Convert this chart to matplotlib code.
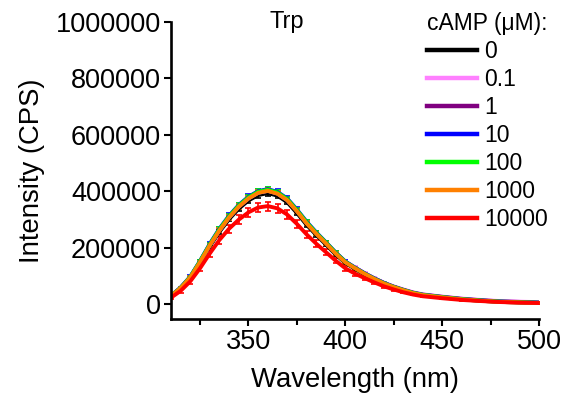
import matplotlib
matplotlib.use("Agg")
import matplotlib.pyplot as plt
from matplotlib.ticker import MultipleLocator
from matplotlib.lines import Line2D

plt.rcParams['font.family'] = ['Liberation Sans', 'DejaVu Sans']

wavelength = [310, 315, 320, 325, 330, 335, 340, 345, 350, 355, 360, 365, 370, 375,
              380, 385, 390, 395, 400, 405, 410, 415, 420, 425, 430, 435, 440,
              450, 460, 470, 480, 490, 500]

labels = ["0", "0.1", "1", "10", "100", "1000", "10000"]
colors = ["#000000", "#ff80ff", "#800080", "#0000ff", "#00ff00", "#ff8000", "#ff0000"]

camp_0 = [29000, 57000, 94000, 147000, 205000, 257000, 302000, 339000, 368000, 387000, 394000,
          385000, 362000, 324000, 282000, 246000, 212000, 177000, 147000, 126000, 106000,
          89000, 73000, 60000, 49000, 40000, 33000, 25000, 18000, 13000, 9000, 7000, 5000]
camp_0_1 = [30000, 58000, 96000, 150000, 209000, 262000, 308000, 346000, 375000, 395000, 402000,
            392000, 369000, 331000, 289000, 252000, 218000, 183000, 152000, 131000, 111000,
            93000, 77000, 64000, 53000, 43000, 36000, 28000, 21000, 16000, 12000, 10000, 8000]
camp_1 = [30000, 59000, 97000, 151000, 210000, 264000, 310000, 348000, 377000, 397000, 404000,
          394000, 371000, 332000, 289000, 252000, 218000, 182000, 151000, 130000, 110000,
          92000, 76000, 63000, 52000, 42000, 35000, 27000, 20000, 15000, 11000, 9000, 7000]
camp_10 = [31000, 60000, 99000, 154000, 214000, 268000, 314000, 352000, 381000, 401000, 408000,
           398000, 375000, 336000, 293000, 255000, 220000, 184000, 152000, 130000, 110000,
           92000, 76000, 62000, 51000, 41000, 34000, 26000, 19000, 14000, 10000, 8000, 6000]
camp_100 = [30000, 59000, 98000, 153000, 212000, 266000, 312000, 350000, 379000, 399000, 406000,
            396000, 373000, 334000, 291000, 253000, 219000, 183000, 151000, 129000, 109000,
            91000, 75000, 62000, 51000, 41000, 34000, 26000, 19000, 14000, 10000, 8000, 6000]
camp_1000 = [30000, 58000, 96000, 150000, 209000, 262000, 308000, 346000, 375000, 395000, 402000,
             392000, 369000, 330000, 287000, 250000, 216000, 180000, 149000, 128000, 108000,
             90000, 74000, 61000, 50000, 40000, 33000, 25000, 18000, 13000, 9000, 7000, 5000]
camp_10000 = [24000, 48000, 82000, 128000, 180000, 228000, 268000, 300000, 326000, 343000, 348000,
              340000, 318000, 285000, 248000, 215000, 185000, 155000, 128000, 109000, 93000,
              78000, 64000, 53000, 43000, 35000, 29000, 22000, 16000, 12000, 8500, 6500, 5000]

err_small = [2000, 3000, 4000, 5000, 6000, 7000, 8000, 8000, 9000, 9000, 9000,
             9000, 8000, 8000, 7000, 6000, 6000, 5000, 4000, 4000, 3000,
             3000, 3000, 2000, 2000, 2000, 2000, 2000, 2000, 2000, 2000, 2000, 2000]
err_red = [4000, 6000, 8000, 10000, 12000, 13000, 14000, 15000, 16000, 16000, 16000,
           16000, 15000, 14000, 13000, 12000, 11000, 10000, 9000, 8000, 7000,
           6000, 5000, 4000, 4000, 3000, 3000, 3000, 2000, 2000, 2000, 2000, 2000]

series = [camp_0, camp_0_1, camp_1, camp_10, camp_100, camp_1000, camp_10000]
errors = [err_small] * 6 + [err_red]

fig = plt.figure(figsize=(5.68, 4.04), dpi=100)
ax = fig.add_axes([0.301, 0.210, 0.648, 0.736])

for vals, err, col, lab in zip(series, errors, colors, labels):
    ax.errorbar(wavelength, vals, yerr=err, color=col, lw=2.8, elinewidth=1.2,
                capsize=2.5, capthick=1.2, label=lab)

ax.set_xlim(310, 500)
ax.set_ylim(-52000, 1000000)
ax.set_xticks([350, 400, 450, 500])
ax.xaxis.set_minor_locator(MultipleLocator(25))
ax.yaxis.set_major_locator(MultipleLocator(200000))
ax.ticklabel_format(axis='y', style='plain')

for s in ['top', 'right']:
    ax.spines[s].set_visible(False)
for s in ['left', 'bottom']:
    ax.spines[s].set_linewidth(1.9)

ax.tick_params(axis='both', which='major', direction='out', length=5, width=1.5, labelsize=19.5, pad=2)
ax.tick_params(axis='x', which='minor', direction='out', length=4, width=1.5)

ax.set_xlabel("Wavelength (nm)", fontsize=19.8, labelpad=9)
ax.set_ylabel("Intensity (CPS)", fontsize=19.8, labelpad=8)
fig.text(287 / 568, 1 - 22 / 404, "Trp", fontsize=17, ha='center', va='center')

proxy = [Line2D([0], [0], color=c, lw=3.2) for c in colors]
leg = fig.legend(proxy, labels, title="cAMP (\u03bcM):", loc='upper left',
                 bbox_to_anchor=(0.735, 0.993), frameon=False, fontsize=16.5,
                 title_fontsize=16.5, handlelength=2.2, handletextpad=0.3,
                 labelspacing=0.22, borderaxespad=0, alignment='left')

fig.savefig("out.png", dpi=100)
